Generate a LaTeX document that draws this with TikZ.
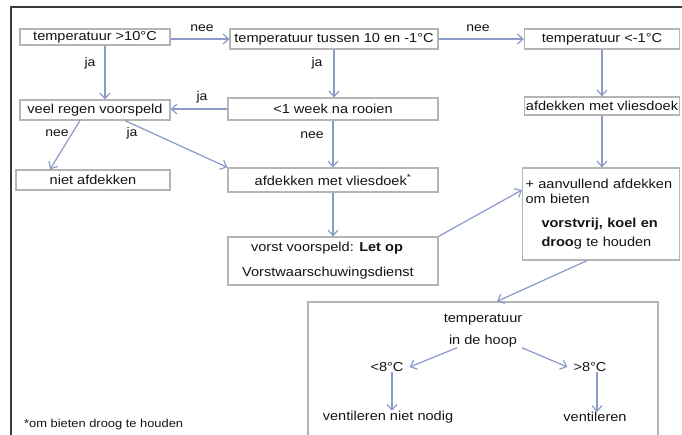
\documentclass[tikz,border=0pt]{standalone}
\usepackage{fontspec}
\setmainfont[FakeStretch=1.12]{Liberation Sans}
\usetikzlibrary{arrows.meta}
\definecolor{boxgray}{HTML}{B5B5B5}
\definecolor{arrowc}{HTML}{8A9AC9}
\definecolor{framec}{HTML}{3A3A3A}
\definecolor{textc}{HTML}{151515}
\begin{document}
\begin{tikzpicture}[x=1pt,y=-1pt,
  font=\fontsize{13}{15}\selectfont,
  every node/.style={text=textc},
  box/.style={draw=boxgray, line width=1.2pt, fill=white, inner sep=0pt, align=center},
  lbl/.style={inner sep=0pt, font=\fontsize{12.5}{14}\selectfont},
  plain/.style={inner sep=0pt, align=center},
  arr/.style={draw=arrowc, line width=1.2pt, -{Straight Barb[length=5.5pt,width=10pt,line width=1.2pt]}}]
\useasboundingbox (0,0) rectangle (682,434);
\fill[white] (0,0) rectangle (682,434);
\draw[framec, line width=1.4pt] (11,445) -- (11,7) -- (695,7);

% boxes
\node[box, minimum width=150pt, minimum height=16pt] (b1) at (95,37) {temperatuur >10°C};
\node[box, minimum width=208pt, minimum height=20pt] (b2) at (334,39) {temperatuur tussen 10 en -1°C};
\node[box, minimum width=155pt, minimum height=20pt] (b3) at (602,39) {temperatuur <-1°C};
\node[box, minimum width=150pt, minimum height=20pt] (b4) at (95,110) {veel regen voorspeld};
\node[box, minimum width=210pt, minimum height=22pt] (b5) at (333,109) {<1 week na rooien};
\node[box, minimum width=155pt, minimum height=18pt] (b6) at (602,106) {afdekken met vliesdoek};
\node[box, minimum width=154pt, minimum height=20pt] (b7) at (93,180) {niet afdekken};
\node[box, minimum width=210pt, minimum height=24pt] (b8) at (333,180) {afdekken met vliesdoek\textsuperscript{*}};
\node[box, minimum width=210pt, minimum height=48pt, font=\fontsize{13}{25}\selectfont] (b9) at (333,261)
  {vorst voorspeld: \textbf{Let op}\hspace*{12pt}\\Vorstwaarschuwingsdienst\hspace*{10pt}};
\node[box, minimum width=157pt, minimum height=92pt, align=left, text width=151pt] (b10) at (601,214)
  {+ aanvullend afdekken\\om bieten\\[9pt]\hspace*{16pt}\textbf{vorstvrij, koel en}\\[4pt]\hspace*{16pt}\textbf{droo}g te houden};
\node[box, minimum width=350pt, minimum height=150pt] (hoop) at (483,377) {};

% inside the hoop box
\node[plain, font=\fontsize{13}{22}\selectfont] (ht) at (483,331) {temperatuur\\in de hoop};
\node[plain] (lt8) at (387,367) {<8°C};
\node[plain] (gt8) at (590,367) {>8°C};
\node[plain] (vnn) at (388,417) {ventileren niet nodig};
\node[plain] (vent) at (595,417) {ventileren};

% footnote
\node[plain, anchor=west, font=\fontsize{11.5}{13}\selectfont] (foot) at (24,425) {*om bieten droog te houden};

% labels
\node[lbl] (l1) at (202,28) {nee};
\node[lbl] (l2) at (478,28) {nee};
\node[lbl] (l3) at (90,63) {ja};
\node[lbl] (l4) at (317,63) {ja};
\node[lbl] (l5) at (202,97) {ja};
\node[lbl] (l6) at (312,135) {nee};
\node[lbl] (l7) at (57,133) {nee};
\node[lbl] (l8) at (132,133) {ja};

% connectors
\draw[arr] ([yshift=-2pt]b1.east) -- ([yshift=-2pt]b1.east -| b2.west);
\draw[arr] (b2.east) -- (b3.west);
\draw[arr] ([xshift=10pt]b1.south) -- ([xshift=10pt]b1.south |- b4.north);
\draw[arr] (b2.south) -- (b2.south |- b5.north);
\draw[arr] (b3.south) -- (b3.south |- b6.north);
\draw[arr] (b5.west) -- (b5.west -| b4.east);
\draw[arr] (b5.south) -- (b5.south |- b8.north);
\draw[arr] (b8.south) -- (b8.south |- b9.north);
\draw[arr] (b6.south) -- (b6.south |- b10.north);
\draw[arr] ([xshift=-15pt]b4.south) -- ([xshift=-43pt]b7.north);
\draw[arr] ([xshift=30pt]b4.south) -- (b8.north west);
\draw[arr] (b9.north east) -- ([yshift=24pt]b10.west);
\draw[arr] ([xshift=-14pt]b10.south) -- ([xshift=14pt]hoop.north);
\draw[arr] ([xshift=-26pt]ht.south) -- ([xshift=6pt]lt8.east);
\draw[arr] ([xshift=39pt]ht.south) -- ([xshift=-6pt]gt8.west);
\draw[arr] ([xshift=5pt]lt8.south) -- ([xshift=5pt]lt8.south |- vnn.north);
\draw[arr] ([xshift=7pt]gt8.south) -- ([xshift=7pt]gt8.south |- vent.north);
\end{tikzpicture}
\end{document}
